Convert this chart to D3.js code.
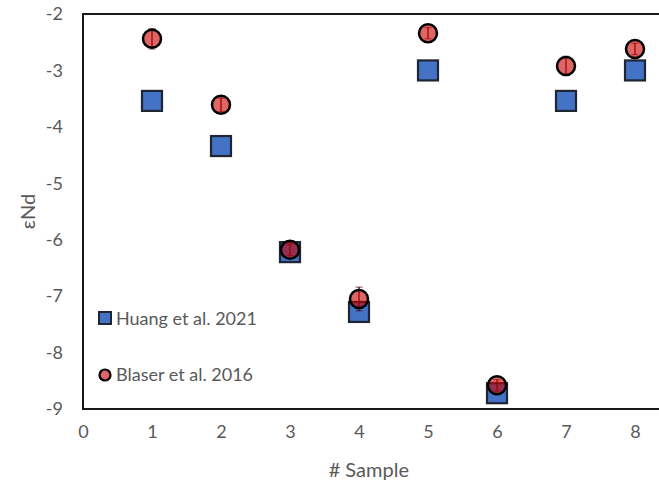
<!DOCTYPE html>
<html>
<head>
<meta charset="utf-8">
<script src="https://cdn.jsdelivr.net/npm/d3@7"></script>
<style>
  body { margin: 0; background: #fff; }
  text { font-family: Lato, "Liberation Sans", sans-serif; fill: #595959; }
</style>
</head>
<body>
<svg id="chart"></svg>
<script>
const samples = [1, 2, 3, 4, 5, 6, 7, 8];
const huang = [-3.54, -4.34, -6.22, -7.28, -3.0, -8.72, -3.54, -3.0];
const blaser = [-2.44, -3.61, -6.18, -7.05, -2.34, -8.58, -2.92, -2.62];
const blaserErr = [0.18, 0.12, 0.1, 0.21, 0.1, 0.1, 0.17, 0.1];
const xTicks = [0, 1, 2, 3, 4, 5, 6, 7, 8];
const yTicks = [-2, -3, -4, -5, -6, -7, -8, -9];

const width = 659, height = 488;
const svg = d3.select('#chart').attr('width', width).attr('height', height);

const x = d3.scaleLinear().domain([0, 8.4]).range([83, 662.6]);
const y = d3.scaleLinear().domain([-9, -2]).range([409, 14]);
const fmt = d => String(d); // plain hyphen, like the original

/** plot frame */
svg.append('rect')
  .attr('x', x(0)).attr('y', y(-2))
  .attr('width', x(8.4) - x(0)).attr('height', y(-9) - y(-2))
  .attr('fill', 'none').attr('stroke', '#000').attr('stroke-width', 1.8);

/** axes (labels only) */
const yAxis = svg.append('g')
  .attr('transform', `translate(${x(0)},0)`)
  .call(d3.axisLeft(y).tickValues(yTicks).tickSize(0).tickPadding(20).tickFormat(fmt));
const xAxis = svg.append('g')
  .attr('transform', `translate(0,${y(-9)})`)
  .call(d3.axisBottom(x).tickValues(xTicks).tickSize(0).tickPadding(16).tickFormat(fmt));
[xAxis, yAxis].forEach(a => {
  a.select('.domain').remove();
  a.selectAll('text').attr('font-size', 18).style('font-family', 'Lato, sans-serif').attr('fill', '#595959');
});

svg.append('text')
  .attr('transform', `translate(35,${(y(-2) + y(-9)) / 2}) rotate(-90)`)
  .attr('text-anchor', 'middle').attr('font-size', 20).text('εNd');
svg.append('text')
  .attr('x', (x(0) + x(8.4)) / 2 - 4).attr('y', 477)
  .attr('text-anchor', 'middle').attr('font-size', 20).text('# Sample');

/** Huang squares */
const sq = 20;
svg.append('g').selectAll('rect')
  .data(samples)
  .join('rect')
  .attr('x', (d) => x(d) - sq / 2)
  .attr('y', (d, i) => y(huang[i]) - sq / 2)
  .attr('width', sq).attr('height', sq)
  .attr('fill', '#4472C4').attr('stroke', '#1e2633').attr('stroke-width', 2.2);

/** Blaser error bars + circles */
const eb = svg.append('g');
samples.forEach((d, i) => {
  const y0 = y(blaser[i] - blaserErr[i]), y1 = y(blaser[i] + blaserErr[i]);
  eb.append('line').attr('x1', x(d)).attr('x2', x(d)).attr('y1', y0).attr('y2', y1)
    .attr('stroke', '#4a0a0a').attr('stroke-width', 1.3);
  [y0, y1].forEach(yy => eb.append('line')
    .attr('x1', x(d) - 3.5).attr('x2', x(d) + 3.5).attr('y1', yy).attr('y2', yy)
    .attr('stroke', '#4a0a0a').attr('stroke-width', 1.2).attr('stroke-opacity', 0.6));
});
svg.append('g').selectAll('circle')
  .data(samples)
  .join('circle')
  .attr('cx', (d) => x(d))
  .attr('cy', (d, i) => y(blaser[i]))
  .attr('r', 9)
  .attr('fill', 'rgb(203,0,0)').attr('fill-opacity', 0.6)
  .attr('stroke', '#000').attr('stroke-width', 2.5);

/** legend */
const lg = svg.append('g');
lg.append('rect').attr('x', 99).attr('y', 312).attr('width', 12).attr('height', 12)
  .attr('fill', '#4472C4').attr('stroke', '#1e2633').attr('stroke-width', 2);
lg.append('text').attr('x', 116).attr('y', 325).attr('font-size', 18).text('Huang et al. 2021');
lg.append('circle').attr('cx', 105).attr('cy', 375).attr('r', 5.5)
  .attr('fill', 'rgb(203,0,0)').attr('fill-opacity', 0.6)
  .attr('stroke', '#000').attr('stroke-width', 2.2);
lg.append('text').attr('x', 116).attr('y', 381).attr('font-size', 18).text('Blaser et al. 2016');
</script>
</body>
</html>
